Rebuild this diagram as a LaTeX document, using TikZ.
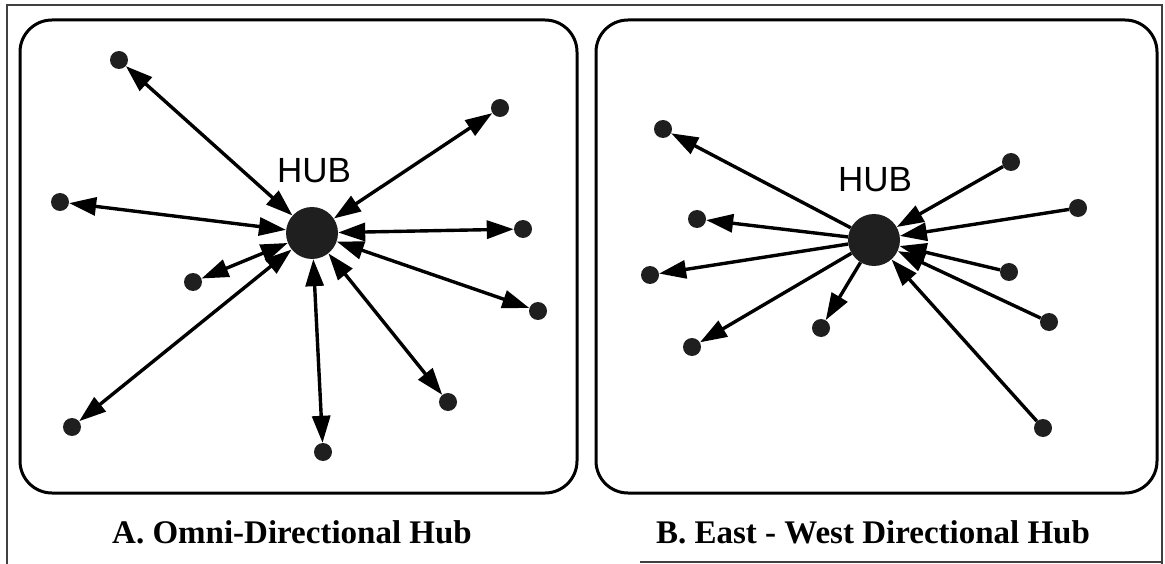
\documentclass[tikz,border=0pt]{standalone}
\usepackage{fontspec}
\setmainfont{Liberation Serif}
\newfontfamily\hubfont{Liberation Sans}
\usetikzlibrary{arrows.meta}
\tikzset{
  dot/.style={circle, fill=black!88, draw=none, inner sep=0pt, minimum size=18pt},
  hubdot/.style={circle, fill=black!88, draw=none, inner sep=0pt, minimum size=52pt},
  link/.style={line width=3.4pt, draw=black},
  tip/.tip={Triangle[length=27pt,width=18pt]},
  bothway/.style={link, tip-tip},
  oneway/.style={link, -tip},
  panel/.style={line width=3pt, rounded corners=32pt},
  frameline/.style={line width=1.4pt, draw=black!75},
  hubtext/.style={font=\hubfont\fontsize{35}{37}\selectfont, inner sep=0pt, anchor=base},
  caption/.style={font=\bfseries\fontsize{33}{36}\selectfont, inner sep=0pt, anchor=base}
}
\begin{document}
\begin{tikzpicture}[x=1pt, y=-1pt]
\useasboundingbox (0,0) rectangle (1165,564);
% outer frame
\draw[frameline] (7,564) -- (7,5) -- (1162,5) -- (1162,564);
\draw[frameline] (640,562) -- (1162,562);
% panels
\draw[panel] (20,20) rectangle (577,493);
\draw[panel] (596,20) rectangle (1157,493);

% ---- Panel A ----
\node[hubtext] (hubAlabel) at (314,183) {HUB};
\node[hubdot] (hubA) at (312,233) {};
\node[dot] (a1) at (119,60) {};
\node[dot] (a2) at (500,108) {};
\node[dot] (a3) at (60,202) {};
\node[dot] (a4) at (523,229) {};
\node[dot] (a5) at (193,282) {};
\node[dot] (a6) at (538,311) {};
\node[dot] (a7) at (72,427) {};
\node[dot] (a8) at (448,402) {};
\node[dot] (a9) at (323,452) {};
\foreach \n in {a1,a2,a3,a4,a5,a6,a7,a8,a9}
  \draw[bothway] (hubA) -- (\n);

% ---- Panel B ----
\node[hubtext] (hubBlabel) at (875,192) {HUB};
\node[hubdot] (hubB) at (874,240) {};
\node[dot] (b1) at (663,129) {};
\node[dot] (b2) at (697,219) {};
\node[dot] (b3) at (650,275) {};
\node[dot] (b4) at (692,347) {};
\node[dot] (b5) at (821,328) {};
\node[dot] (b6) at (1011,162) {};
\node[dot] (b7) at (1078,208) {};
\node[dot] (b8) at (1009,272) {};
\node[dot] (b9) at (1049,322) {};
\node[dot] (b10) at (1043,428) {};
\foreach \n in {b1,b2,b3,b4,b5}
  \draw[oneway] (hubB) -- (\n);
\foreach \n in {b6,b7,b8,b9,b10}
  \draw[oneway] (\n) -- (hubB);

% captions
\node[caption] (capA) at (292,543) {A. Omni-Directional Hub};
\node[caption] (capB) at (873,543) {B. East - West Directional Hub};
\end{tikzpicture}
\end{document}
